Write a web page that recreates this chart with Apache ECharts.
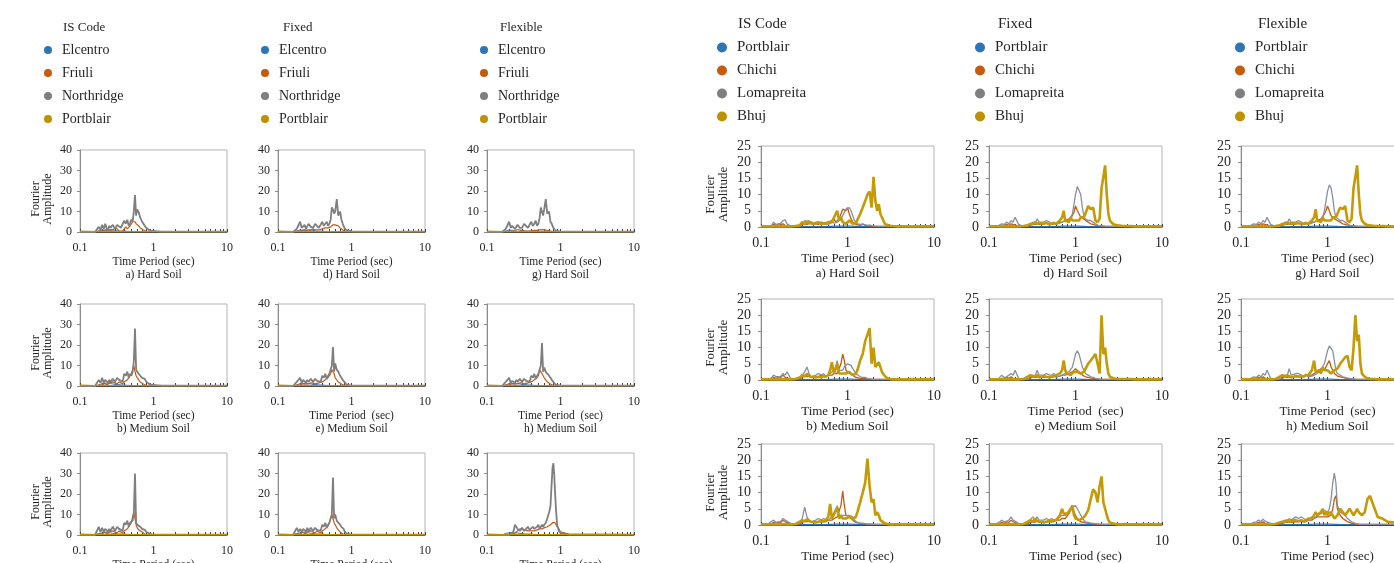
<!DOCTYPE html>
<html><head><meta charset="utf-8">
<script src="https://cdn.jsdelivr.net/npm/echarts@6/dist/echarts.min.js"></script>
<style>html,body{margin:0;padding:0;background:#fff}#c{width:1394px;height:563px}</style>
</head><body><div id="c"></div>
<script>
// ---------------- LEFT FIGURE (Elcentro / Friuli / Northridge / Portblair) ----------------
const T_L = [0.1,0.13,0.16,0.17,0.18,0.19,0.2,0.21,0.22,0.23, 0.24,0.25,0.26,0.28,0.3,0.32,0.34,0.36,0.38,0.4, 0.42,0.44,0.46,0.48,0.5,0.52,0.54,0.56,0.58,0.6, 0.63,0.66,0.7,0.73,0.76,0.78,0.8,0.82,0.84,0.87, 0.9,0.95,1,1.3,10];

const L_a_Northridge = [0,0,0,0.5,2.5,1,3.5,1.5,4,2, 1,3,2,3.5,1.5,3.5,4,2,1.5,5.5, 4,6,3,4.5,6,5,10,18,8,11, 9.5,7,5,4.5,3,3.5,2,2.5,1.5,1, 1,0.5,0.3,0.2,0.2];
const L_a_Friuli = [0,0,0,0.2,0.5,0.3,0.5,0.8,1,0.5, 1.5,0.5,0.5,1,2,1.5,0.5,1,0.5,1.5, 2.5,1.5,2,3,4,5,5.5,5,4,3.5, 3,2,1.5,1,0.5,0.5,0.3,0.2,0.2,0.2, 0.2,0.2,0.2,0.2,0.2];
const L_d_Northridge = [0,0,0,0.3,1.5,2,5,2,2.5,3.5, 1.5,2,4,2.5,2,4,3,2,1.5,5, 3,3.5,5,3,4,6,12,11,9,10, 16,8,10,6,4,3,2,1.5,1,0.8, 0.8,0.5,0.3,0.2,0.2];
const L_d_Friuli = [0,0,0,0,0.3,0.5,0.5,0.8,1,0.5, 1,1,0.5,1,1.5,1,1.5,1,0.8,1.5, 1.5,2,1.5,2,2.5,2.5,3,3.5,3.5,3.5, 3.5,3,2,1.5,1,0.5,0.3,0.2,0.2,0.2, 0.2,0.2,0.2,0.2,0.2];
const L_g_Northridge = [0,0,0,0.3,1.5,2,5,2,3,3.5, 1.5,2,3.5,2,2,4,3,2,1.5,5, 3,4,5.5,3,4,7,12,10,8,11, 16,9,10,5,4,3,2,1.5,1,0.8, 0.5,0.3,0.2,0.2,0.2];
const L_g_Friuli = [0,0,0,0,0.2,0.3,0.3,0.5,0.5,0.3, 0.5,0.5,0.3,0.5,0.8,0.5,0.5,0.5,0.3,0.5, 0.5,0.8,0.5,0.8,1,1,1.2,1.2,1,1, 0.8,0.8,0.5,0.5,0.3,0.3,0.2,0.2,0.2,0.2, 0.2,0.2,0.2,0.2,0.2];
const L_b_Northridge = [0,0,0,0.5,3,1.5,4,1.5,3,3.5, 1.5,3,2,3.5,2,4,3,2.5,2,6, 5,7,4,6,5,7,12,28,8,7, 6,5,4,4,3.5,3,2,2.5,1.5,1, 0.8,0.5,0.3,0.2,0.2];
const L_b_Friuli = [0,0,0,0,0.5,1,0.5,1,1.5,0.5, 1,1.5,1,2,1.5,1,2,1.5,1,2, 2.5,3,4,5,6,8,10,7,5,4, 3,2,1.5,1,0.8,0.5,0.3,0.2,0.2,0.2, 0.2,0.2,0.2,0.2,0.2];
const L_e_Northridge = [0,0,0,0.3,2,1.5,4,1.5,3,3, 1.5,3,2,3.5,2,3.5,2.5,2,2,5, 4,6,3.5,5,6,8,10,19,7,11, 8,7,5,4,3,2.5,2,1.5,1,0.8, 0.5,0.3,0.2,0.2,0.2];
const L_e_Friuli = [0,0,0,0,0.5,0.8,0.5,1,1.2,0.5, 1,1.5,1,1.5,1.5,1,1.5,1.5,1,2, 2,3,3.5,4,5,6,8,7,6,4, 3,2,1.5,1,0.5,0.5,0.3,0.2,0.2,0.2, 0.2,0.2,0.2,0.2,0.2];
const L_h_Northridge = [0,0,0,0.3,2,1.5,4,1.5,2.5,3, 1.5,3,2,3.5,2,3.5,2.5,2,2,5, 4,6,3.5,5,6,8,10,21,7,9, 7,6,5,4,3,2.5,2,1.5,1,0.8, 0.5,0.3,0.2,0.2,0.2];
const L_h_Friuli = [0,0,0,0,0.5,0.8,0.5,1,1.2,0.5, 1,1.5,1,1.5,1.5,1,1.5,1.5,1,2, 2,3,3.5,4,5,8,7,6,5,4, 3,2,1.5,1,0.5,0.5,0.3,0.2,0.2,0.2, 0.2,0.2,0.2,0.2,0.2];
const L_c_Northridge = [0,0,0,0.5,4,1.5,3.5,1.5,3,3.5, 1.5,3,2,4,2,4,3,2.5,2,6, 5,7,4,6,6,7,11,30,6,5, 4.5,4,3,3.5,2.5,2,1.5,1.5,1,0.8, 0.5,0.3,0.2,0.2,0.2];
const L_c_Friuli = [0,0,0,0,0.5,1,0.5,1,1.5,0.5, 1,1.5,1,2,1.5,1,2,1.5,1,2, 2.5,3,4,5,6,9,11,8,5,3.5, 2.5,2,1.5,1,0.5,0.3,0.2,0.2,0.2,0.2, 0.2,0.2,0.2,0.2,0.2];
const L_f_Northridge = [0,0,0,0.3,3.5,1.5,3,1.5,3,3, 1.5,3.5,2,3.5,2,3.5,2.5,2,2,5, 4,6,3.5,5,6,8,10,28,8,10, 7,6,5,4,3.5,3,2,1.5,1,0.8, 0.5,0.3,0.2,0.2,0.2];
const L_f_Friuli = [0,0,0,0,0.5,1,0.5,1,1.5,0.5, 1,1.5,1,2,1.5,1,2,1.5,1,2, 2,3,3.5,4.5,6,8,10,8,6,5, 3.5,2.5,1.5,1,0.5,0.3,0.2,0.2,0.2,0.2, 0.2,0.2,0.2,0.2,0.2];
const L_i_Northridge = [0,0,0,0,0,0,0,0.3,1,2, 5,5.5,3,2,3.5,2,3,4,2.5,3, 4,3,2.5,4,5,3,4,5,4,5, 6,8,11,14,26,33,35,30,22,12, 5,2,1,0.2,0.2];
const L_i_Friuli = [0,0,0,0,0,0,0,0,0.3,0.5, 1,1.5,2,3,3,2.5,2,2,1.5,2, 2,2,2.5,2.5,3,3,3,3,3,3.5, 3.5,4,4.5,5,5.5,6,6.5,6.5,6,5, 4,3,1.5,0.5,0.2];
const L_Elcentro_hard = [0,0,0,0.2,0.5,0.8,1,0.5,0.8,1, 0.8,1,1.2,1,0.8,0.5,0.5,0.3,0.3,0.5, 0.5,0.3,0.3,0.3,0.2,0.2,0.2,0.2,0.2,0.2, 0.2,0.2,0.2,0.2,0.2,0.2,0.2,0.2,0.2,0.2, 0.2,0.2,0.2,0.2,0.2];
const L_Elcentro_medium = [0,0,0,0.2,0.5,1,1.2,0.8,1,1.5, 1,1.5,1.2,1,0.8,0.8,0.5,0.5,0.3,0.5, 0.5,0.3,0.3,0.3,0.2,0.2,0.2,0.2,0.2,0.2, 0.2,0.2,0.2,0.2,0.2,0.2,0.2,0.2,0.2,0.2, 0.2,0.2,0.2,0.2,0.2];
const L_Elcentro_soft = [0,0,0,0.2,0.8,1.2,1,0.8,1.2,1.5, 1,1.2,1,0.8,0.8,0.5,0.5,0.5,0.3,0.5, 0.5,0.3,0.3,0.3,0.2,0.2,0.2,0.2,0.2,0.2, 0.2,0.2,0.2,0.2,0.2,0.2,0.2,0.2,0.2,0.2, 0.2,0.2,0.2,0.2,0.2];
const L_Portblair = [0.4,0.3,0.2,0.2,0.2,0.2,0.2,0.2,0.2,0.2, 0.2,0.2,0.2,0.2,0.2,0.2,0.2,0.2,0.2,0.2, 0.2,0.2,0.2,0.2,0.2,0.2,0.2,0.2,0.2,0.2, 0.2,0.2,0.2,0.2,0.2,0.2,0.2,0.2,0.2,0.2, 0.2,0.2,0.2,0.2,0.2];

// ---------------- RIGHT FIGURE (Portblair / Chichi / Lomapreita / Bhuj) ----------------
const T_R = [0.1,0.12,0.13,0.14,0.15,0.16,0.17,0.18,0.19,0.2, 0.22,0.25,0.28,0.3,0.32,0.34,0.36,0.38,0.4,0.43, 0.46,0.5,0.53,0.56,0.6,0.63,0.66,0.7,0.73,0.76, 0.8,0.84,0.88,0.92,0.96,1,1.05,1.1,1.15,1.2, 1.25,1.3,1.4,1.5,1.6,1.7,1.8,1.9,2,2.1, 2.2,2.3,2.4,2.5,2.7,2.9,3.1,3.4,3.8,4.3,5,10];

const R_a_Bhuj = [0.2,0.2,0.2,0.2,0.2,0.2,0.2,0.2,0.2,0.2, 0.2,0.3,0.5,1.5,0.8,1.8,1,1.5,0.8,1.2, 1.5,0.8,1.2,1,1.5,2,1.5,3,2.5,5, 2,3,1.5,2,1,1.2,2,1.5,1,1, 1.2,1.5,4,6,8,10,11,6,15.5,8, 5,7,4,3,1,0.6,0.4,0.3,0.2,0.2,0.2,0.2];
const R_a_Lomapreita = [0.2,0.2,0.2,1.5,0.8,1,1.2,2,2.2,1, 0.3,0.2,0.3,1,2,1.5,2,1,0.8,1.5, 1.2,1.5,1,1.5,0.8,1,1.5,1.2,1,1.5, 2,2.5,3.5,4.5,5.5,6,6,5,3.5,2, 1.5,1,0.8,1,0.7,0.5,0.6,0.4,0.3,0.3, 0.2,0.2,0.2,0.2,0.2,0.2,0.2,0.2,0.2,0.2,0.2,0.2];
const R_a_Chichi = [0.2,0.2,0.3,0.8,0.5,1,0.8,1,0.5,0.8, 0.3,0.2,0.3,0.8,1,0.8,1.2,1,0.5,1, 0.8,1.5,1,0.8,1.5,1,2,2.5,1.5,2, 2.5,4,5.5,6,5,6,4,2.5,1.5,1, 0.8,0.6,0.5,0.8,0.5,0.4,0.5,0.3,0.3,0.2, 0.2,0.2,0.2,0.2,0.2,0.2,0.2,0.2,0.2,0.2,0.2,0.2];

const R_b_Bhuj = [0.2,0.2,0.2,0.2,0.2,0.2,0.2,0.2,0.2,0.2, 0.2,0.3,0.8,1.5,1,2,1.2,1,1.5,0.8, 1,0.8,1.2,1,1.5,3,5.5,2,3.5,5, 2,2.5,2,2.5,2,2,2.5,2,1.5,2, 2,3,6,8,12,14,16,5,10,4, 4,5.5,4,2.5,1.2,0.5,0.3,0.2,0.2,0.2,0.2,0.2];
const R_b_Lomapreita = [0.2,0.2,0.5,1.5,1,1,1.2,2,1.5,2.5, 0.5,0.2,0.5,1.5,2.5,4,2,1,1,1.5, 2,1.5,2,1,1.5,2,2.5,3,4,6, 3,2.5,3,4,4.5,5,5,4.5,3.5,3, 2,1.5,1,0.8,0.8,0.5,0.4,0.3,0.3,0.2, 0.2,0.2,0.2,0.2,0.2,0.2,0.2,0.2,0.2,0.2,0.2,0.2];
const R_b_Chichi = [0.2,0.2,0.3,0.8,0.5,1,0.8,1.5,0.8,1, 0.3,0.2,0.3,0.8,1.5,1,1.2,0.8,0.5,0.8, 1,1.5,1.2,1,1.5,1,1.5,2,1.5,2, 2.5,5,8,6,3,2.5,2,2,1.5,1, 0.8,0.6,0.5,0.5,0.4,0.3,0.3,0.3,0.2,0.2, 0.2,0.2,0.2,0.2,0.2,0.2,0.2,0.2,0.2,0.2,0.2,0.2];

const R_c_Bhuj = [0.2,0.2,0.2,0.2,0.2,0.2,0.2,0.2,0.2,0.2, 0.2,0.3,1,1.5,1,1.8,1.2,1,1.5,0.8, 1,1.2,1,1.5,2.5,6.5,2,3.5,4.5,5.5, 2,3,2,2.5,2,2,2.5,2,1.8,2, 2.5,4,7,10,13,20.5,12,7,8,3, 4,3,1.5,1,0.5,0.3,0.2,0.2,0.2,0.2,0.2,0.2];
const R_c_Lomapreita = [0.2,0.2,1,1.5,0.8,1,1.2,2,1.5,2, 0.5,0.2,0.5,2,5.5,2.5,1.5,1,1,1.5, 2,1.5,2,1.5,1.5,2,2.5,3,4,6, 3,2.5,3,3.5,3,3.5,3,3.5,2.5,1.5, 1,0.8,0.6,0.5,0.4,0.3,0.3,0.2,0.2,0.2, 0.2,0.2,0.2,0.2,0.2,0.2,0.2,0.2,0.2,0.2,0.2,0.2];
const R_c_Chichi = [0.2,0.2,0.3,0.8,0.5,1,0.8,1.5,1,1, 0.3,0.2,0.3,0.8,1.5,1,1.5,1,0.5,1, 1,1.5,1.2,1,1.5,1,1.5,2,1.5,2.5, 3,6,10.5,6,3,3,2.5,2,1.5,1, 0.8,0.6,0.5,0.5,0.4,0.3,0.3,0.3,0.2,0.2, 0.2,0.2,0.2,0.2,0.2,0.2,0.2,0.2,0.2,0.2,0.2,0.2];

const R_d_Bhuj = [0.2,0.2,0.2,0.2,0.2,0.2,0.2,0.2,0.2,0.2, 0.2,0.3,0.5,1,0.8,1.5,1,1.2,0.8,1, 1.2,0.8,1,1.2,1,1.5,2,3,5,2, 2.5,1.5,3,2,1.5,2,2.5,2,3,2.5, 3,4,6.5,5.5,6,2,1.5,2.5,12,15.5, 19,10,4,2,1,0.6,0.5,0.4,0.3,0.3,0.2,0.2];
const R_d_Lomapreita = [0.2,0.2,0.5,1,0.8,1.5,1,2,1.5,3, 0.8,0.2,0.3,0.8,1.5,1,2.5,1.5,1,1.5, 2,1.5,1,1.5,0.8,1,1.2,1.5,2,2, 1.5,2,2.5,4,7,10,12.5,13,10,6, 3.5,2.5,2,2,1.5,1,0.5,0.4,0.3,0.3, 0.2,0.2,0.2,0.2,0.2,0.2,0.2,0.2,0.2,0.2,0.2,0.2];
const R_d_Chichi = [0.2,0.2,0.3,0.5,0.5,0.8,0.5,1,0.8,1, 0.3,0.2,0.3,0.5,1,0.8,1,0.8,0.5,1, 1.2,1,0.8,1,1,1.2,1.5,1.5,2,2, 2,2.5,3,3.5,4.5,6.5,5,4,3,2.5, 2.5,2,1.5,1,0.8,0.6,0.5,0.4,0.3,0.3, 0.2,0.2,0.2,0.2,0.2,0.2,0.2,0.2,0.2,0.2,0.2,0.2];

const R_g_Bhuj = [0.2,0.2,0.2,0.2,0.2,0.2,0.2,0.2,0.2,0.2, 0.2,0.3,0.5,1,0.8,1.5,1,1.2,0.8,1, 1.2,0.8,1,1.2,1,1.5,2,3,5.5,2, 2.5,1.5,3,2,1.5,2,2.5,2,3,2.5, 3,4,6,5.5,6.5,2,1.5,2.5,12,15.5, 19,10,4,2,1,0.6,0.5,0.4,0.3,0.3,0.2,0.2];
const R_g_Lomapreita = [0.2,0.2,0.5,1,0.8,1.5,1,2,1.5,3, 0.8,0.2,0.3,0.8,1.5,1,2.5,1.5,1,1.5, 2,1.5,1,1.5,0.8,1,1.2,1.5,2,2, 1.5,2,3,5,8,11,13,12,9,5, 3,2.5,2,2,1.5,1,0.5,0.4,0.3,0.3, 0.2,0.2,0.2,0.2,0.2,0.2,0.2,0.2,0.2,0.2,0.2,0.2];
const R_g_Chichi = [0.2,0.2,0.3,0.5,0.5,0.8,0.5,1,0.8,1, 0.3,0.2,0.3,0.5,1,0.8,1,0.8,0.5,1, 1.2,1,0.8,1,1,1.2,1.5,1.5,2,2, 2,2.5,3,4,5,6.5,5,3.5,3,2.5, 2.5,2,1.5,1,0.8,0.6,0.5,0.4,0.3,0.3, 0.2,0.2,0.2,0.2,0.2,0.2,0.2,0.2,0.2,0.2,0.2,0.2];

const R_e_Bhuj = [0.2,0.2,0.2,0.2,0.2,0.2,0.2,0.2,0.2,0.2, 0.2,0.3,1,1.5,1,1.2,1.5,0.8,1,1.2, 1,0.8,1,1.2,1.5,2,2,3,6,3, 2,1.5,1.5,2,2.5,3,2.5,2,2,2, 2.5,3,5,6,7,8,5,2,20,8, 10,5,2,1,0.6,0.4,0.3,0.3,0.3,0.3,0.2,0.2];
const R_e_Lomapreita = [0.2,0.2,0.5,1.5,0.8,1,1.5,2,1.5,3, 0.5,0.2,0.3,1,1.5,1,3,1.5,1,1.5, 2,1.5,1.5,2,1,1,1.2,1.5,1.5,2, 2,2.5,3,4,6,8,9,8,6,4, 3,2,1.5,1,0.8,0.5,0.4,0.3,0.3,0.2, 0.2,0.2,0.2,0.2,0.2,0.2,0.2,0.2,0.2,0.2,0.2,0.2];
const R_e_Chichi = [0.2,0.2,0.3,0.5,0.5,0.8,0.5,1,0.5,1, 0.3,0.2,0.3,0.5,1,0.8,1,0.8,0.5,0.8, 1,0.8,1,1,1,1.2,1.2,1.5,1.5,1.5, 1.5,2,2,2.5,3,3.5,3,2.5,2,1.5, 1.2,1,0.8,0.6,0.5,0.4,0.3,0.3,0.2,0.2, 0.2,0.2,0.2,0.2,0.2,0.2,0.2,0.2,0.2,0.2,0.2,0.2];

const R_h_Bhuj = [0.2,0.2,0.2,0.2,0.2,0.2,0.2,0.2,0.2,0.2, 0.2,0.3,1,1.5,1,1.5,1.2,0.8,1,1.2, 1,1.2,1,1.5,1.5,2,3,6,2.5,3, 3,2,4,3,2.5,3,2.5,2,2.5,3, 3,3.5,5,6,7,7.5,4,3,10,20, 12,14,5,2,1,0.5,0.3,0.3,0.2,0.2,0.2,0.2];
const R_h_Lomapreita = [0.2,0.2,0.5,1,0.8,1.5,1,2,1.5,3, 0.5,0.2,0.3,1,1.5,1,3.5,1.5,1,2, 2,1.5,1,1.5,1,1,1.2,1.5,2,2, 2.5,3,3.5,5,7,9,10.5,11,9,6, 3,2,1.5,1,0.8,0.6,0.5,0.4,0.3,0.3, 0.2,0.2,0.2,0.2,0.2,0.2,0.2,0.2,0.2,0.2,0.2,0.2];
const R_h_Chichi = [0.2,0.2,0.3,0.5,0.5,0.8,0.5,1,0.5,1, 0.3,0.2,0.3,0.5,1,0.8,1,0.8,0.5,1, 1.2,1,1,1.5,1.5,1.2,1.5,2,2,2.5, 3,3.5,4,3,3.5,5,6,4,3,2, 1.5,1.2,1,0.8,0.6,0.5,0.4,0.3,0.3,0.2, 0.2,0.2,0.2,0.2,0.2,0.2,0.2,0.2,0.2,0.2,0.2,0.2];

const R_f_Bhuj = [0.2,0.2,0.2,0.2,0.2,0.2,0.2,0.2,0.2,0.2, 0.2,0.3,1,1.5,1,2,1.2,1,1.5,0.8, 1,1.2,1,1.5,1.5,2,3,5,3.5,3, 3.5,4,5,6,3,2,1.5,1.5,2,2, 2.5,3,4.5,8,11,10,7,12,15,7, 5,3,1.5,0.8,0.5,0.3,0.2,0.2,0.2,0.2,0.2,0.2];
const R_f_Lomapreita = [0.2,0.2,0.8,1.5,1,1.2,1.5,2.5,1.5,2, 0.5,0.2,0.5,1.5,2.5,1.5,2.5,1.5,1,1.5, 2,1.5,2,1.5,1.5,2,2.5,3,3.5,3, 3,3.5,4.5,5.5,6,6,5,4,3,2, 1.5,1,0.8,0.6,0.5,0.4,0.3,0.3,0.2,0.2, 0.2,0.2,0.2,0.2,0.2,0.2,0.2,0.2,0.2,0.2,0.2,0.2];
const R_f_Chichi = [0.2,0.2,0.3,0.8,0.5,1,0.8,1.5,1,1, 0.3,0.2,0.3,0.8,1,0.8,1.5,1,0.5,1, 1,1.5,1.2,1,1.5,1,1.5,2,1.5,2, 2.5,3.5,5,6,4,3,2,1.5,1,1, 0.8,0.6,0.5,0.5,0.4,0.3,0.3,0.2,0.2,0.2, 0.2,0.2,0.2,0.2,0.2,0.2,0.2,0.2,0.2,0.2,0.2,0.2];

const R_i_Bhuj = [0.2,0.2,0.2,0.2,0.2,0.2,0.2,0.2,0.2,0.2, 0.2,0.3,0.8,1,0.8,1.5,1,1.2,1,1.5, 1.2,1.5,1,1.5,2,2.5,2,3,4,3, 3,4,5,3,4,3,4,4.5,3,2, 2,3,5,4,3,4,5,4,3,4, 5,4,3.5,3,4,8,9,6,2.5,2,1,0.2];
const R_i_Lomapreita = [0.2,0.2,0.3,0.8,1,1.5,1,1.8,1.2,1, 0.5,0.3,0.5,1,1.5,1,2,1.5,1.5,2.5, 2,2.5,2,1.5,1.5,2,2.5,2,2.5,3, 3,3.5,4,4.5,4,4,5,8,13,16, 13,6,4,3.5,3,2,1.5,1,0.8,0.5, 0.3,0.3,0.2,0.2,0.2,0.2,0.2,0.2,0.2,0.2,0.2,0.2];
const R_i_Chichi = [0.2,0.2,0.3,0.5,0.5,0.8,0.5,1,0.5,1, 0.3,0.2,0.3,0.5,1,0.8,1,0.8,0.5,1, 1,1.2,1,1,1.5,1.2,1.5,2,2,2.5, 2,2.5,3,2.5,2,2.5,3,3,5,8, 9,5,3,2,1.5,1,0.8,0.5,0.4,0.3, 0.2,0.2,0.2,0.2,0.2,0.2,0.2,0.2,0.2,0.2,0.2,0.2];

const R_Portblair = [0.1,0.1,0.1,0.1,0.1,0.1,0.1,0.1,0.1,0.1, 0.1,0.1,0.1,0.1,0.1,0.1,0.1,0.1,0.1,0.1, 0.1,0.1,0.1,0.1,0.2,0.2,0.2,0.3,0.3,0.3, 0.3,0.3,0.3,0.3,0.3,0.3,0.3,0.3,0.2,0.2, 0.2,0.2,0.1,0.1,0.1,0.1,0.1,0.1,0.1,0.1, 0.1,0.1,0.1,0.1,0.1,0.1,0.1,0.1,0.1,0.1,0.1,0.1];

// ---------------- labels ----------------
const LEFT_NAMES = ['Elcentro','Friuli','Northridge','Portblair'];
const RIGHT_NAMES = ['Portblair','Chichi','Lomapreita','Bhuj'];
const GROUP_TITLES = ['IS Code','Fixed','Flexible'];
const LEFT_CAPTIONS = ['a) Hard Soil','d) Hard Soil','g) Hard Soil','b) Medium Soil','e) Medium Soil','h) Medium Soil','c) Soft Soil','f) Soft Soil','i) Soft Soil'];
const RIGHT_CAPTIONS = ['a) Hard Soil','d) Hard Soil','g) Hard Soil','b) Medium Soil','e) Medium Soil','h) Medium Soil','c) Soft Soil','f) Soft Soil','i) Soft Soil'];
const LEFT_XNAMES = ['Time Period (sec)','Time Period (sec)','Time Period (sec)','Time Period (sec)','Time Period  (sec)','Time Period  (sec)','Time Period (sec)','Time Period (sec)','Time Period (sec)'];
const RIGHT_XNAMES = ['Time Period (sec)','Time Period (sec)','Time Period (sec)','Time Period (sec)','Time Period  (sec)','Time Period  (sec)','Time Period (sec)','Time Period (sec)','Time Period (sec)'];
const Y_NAME = 'Fourier\nAmplitude';

// panels in row-major order (rows: hard/medium/soft; cols: IS Code/Fixed/Flexible)
const LEFT_PANELS = [
  [L_Elcentro_hard, L_a_Friuli, L_a_Northridge, L_Portblair],
  [L_Elcentro_hard, L_d_Friuli, L_d_Northridge, L_Portblair],
  [L_Elcentro_hard, L_g_Friuli, L_g_Northridge, L_Portblair],
  [L_Elcentro_medium, L_b_Friuli, L_b_Northridge, L_Portblair],
  [L_Elcentro_medium, L_e_Friuli, L_e_Northridge, L_Portblair],
  [L_Elcentro_medium, L_h_Friuli, L_h_Northridge, L_Portblair],
  [L_Elcentro_soft, L_c_Friuli, L_c_Northridge, L_Portblair],
  [L_Elcentro_soft, L_f_Friuli, L_f_Northridge, L_Portblair],
  [L_Elcentro_soft, L_i_Friuli, L_i_Northridge, L_Portblair]
];
const RIGHT_PANELS = [
  [R_Portblair, R_a_Chichi, R_a_Lomapreita, R_a_Bhuj],
  [R_Portblair, R_d_Chichi, R_d_Lomapreita, R_d_Bhuj],
  [R_Portblair, R_g_Chichi, R_g_Lomapreita, R_g_Bhuj],
  [R_Portblair, R_b_Chichi, R_b_Lomapreita, R_b_Bhuj],
  [R_Portblair, R_e_Chichi, R_e_Lomapreita, R_e_Bhuj],
  [R_Portblair, R_h_Chichi, R_h_Lomapreita, R_h_Bhuj],
  [R_Portblair, R_c_Chichi, R_c_Lomapreita, R_c_Bhuj],
  [R_Portblair, R_f_Chichi, R_f_Lomapreita, R_f_Bhuj],
  [R_Portblair, R_i_Chichi, R_i_Lomapreita, R_i_Bhuj]
];

// sanity check
LEFT_PANELS.forEach((p,i)=>p.forEach((a,k)=>{ if(a.length!==T_L.length) throw new Error('Left panel '+i+' series '+k+' length '+a.length); }));
RIGHT_PANELS.forEach((p,i)=>p.forEach((a,k)=>{ if(a.length!==T_R.length) throw new Error('Right panel '+i+' series '+k+' length '+a.length); }));

// ---------------- styles & layout ----------------
const FONT = 'Liberation Serif';
const TXT = '#262626';
const BLUE = '#2e75b6', ORANGE = '#c55a11', GRAY = '#7f7f7f', GOLD = '#bf9000';
const LEFT_COLORS = [BLUE, ORANGE, GRAY, GOLD];
const RIGHT_COLORS = [BLUE, ORANGE, '#8890a0', '#c49a06'];
const LEFT_WIDTHS = [1, 1.2, 1.8, 1.4];
const RIGHT_WIDTHS = [1.2, 1.3, 1.3, 2.6];

const LAY = {
  L: {x:[80,278,487], y:[150,304,453], w:147, h:82, nameGap:[23,17,17], tick:12, axisName:11.5, yMax:40, yInt:10, yNameGap:26, yNameFont:12, labelMargin:10, yLabelMargin:8},
  R: {x:[761,989,1241], y:[146,299,444], w:173, h:81, nameGap:[20,17,19], tick:14, axisName:13, yMax:25, yInt:5, yNameGap:31, yNameFont:13, labelMargin:9, yLabelMargin:10}
};

const grids = [], xAxes = [], yAxes = [], series = [];
let gi = 0;
function addPanel(side, idx, T, arrs, names, colors, widths, caption, xname) {
  const c = LAY[side];
  const row = Math.floor(idx/3), col = idx%3;
  grids.push({left:c.x[col], top:c.y[row], width:c.w, height:c.h, show:true, borderColor:'#b4b4b4', borderWidth:1, backgroundColor:'transparent', containLabel:false, outerBoundsMode:'none'});
  xAxes.push({
    type:'log', logBase:10, min:0.1, max:10, gridIndex:gi,
    axisLine:{show:true, onZero:false, lineStyle:{color:'#404040', width:1}},
    axisTick:{show:true, inside:true, length:3, lineStyle:{color:'#404040'}},
    minorTick:{show:true, splitNumber:9, length:3, lineStyle:{color:'#404040'}},
    splitLine:{show:false}, minorSplitLine:{show:false},
    axisLabel:{fontFamily:FONT, fontSize:c.tick, color:TXT, margin:c.labelMargin, formatter:v=>String(Math.round(v*1000)/1000)},
    name: xname + '\n' + caption, nameLocation:'middle', nameGap:c.nameGap[row],
    nameTextStyle:{fontFamily:FONT, fontSize:c.axisName, color:TXT, lineHeight:c.axisName+2, align:'center'}
  });
  yAxes.push({
    type:'value', min:0, max:c.yMax, interval:c.yInt, gridIndex:gi,
    axisLine:{show:true, lineStyle:{color:'#8c8c8c'}},
    axisTick:{show:true, length:3, lineStyle:{color:'#8c8c8c'}},
    splitLine:{show:false},
    axisLabel:{fontFamily:FONT, fontSize:c.tick, color:TXT, margin:c.yLabelMargin},
    name: col===0 ? Y_NAME : '', nameLocation:'middle', nameRotate:90, nameGap:c.yNameGap,
    nameTextStyle:{fontFamily:FONT, fontSize:c.yNameFont, color:TXT, lineHeight:c.yNameFont, padding:[0,16,0,0]}
  });
  arrs.forEach((arr,k)=>{
    series.push({
      type:'line', name:names[k], xAxisIndex:gi, yAxisIndex:gi,
      data:T.map((t,j)=>[t, arr[j]]),
      showSymbol:false, symbol:'none', smooth:false, clip:true,
      lineStyle:{width:widths[k], color:colors[k]}, itemStyle:{color:colors[k]},
      emphasis:{disabled:true}, animation:false
    });
  });
  gi++;
}
LEFT_PANELS.forEach((p,i)=>addPanel('L', i, T_L, p, LEFT_NAMES, LEFT_COLORS, LEFT_WIDTHS, LEFT_CAPTIONS[i], LEFT_XNAMES[i]));
RIGHT_PANELS.forEach((p,i)=>addPanel('R', i, T_R, p, RIGHT_NAMES, RIGHT_COLORS, RIGHT_WIDTHS, RIGHT_CAPTIONS[i], RIGHT_XNAMES[i]));

// legends & their titles
const LEG_L = {left:[44,261,480], top:43, titleLeft:[63,283,500], titleTop:21, font:14, titleFont:13, iw:18, ih:8, gap:9};
const LEG_R = {left:[717,975,1235], top:40, titleLeft:[738,998,1258], titleTop:17, font:15, titleFont:15, iw:20, ih:10, gap:8};
const legends = [], titles = [];
[ [LEG_L, LEFT_NAMES, [BLUE,ORANGE,GRAY,GOLD]], [LEG_R, RIGHT_NAMES, [BLUE,ORANGE,GRAY,GOLD]] ].forEach(([L, names, cols])=>{
  for (let c=0;c<3;c++){
    legends.push({
      orient:'vertical', left:L.left[c], top:L.top, icon:'circle', itemWidth:L.iw, itemHeight:L.ih, itemGap:L.gap, padding:0,
      textStyle:{fontFamily:FONT, fontSize:L.font, color:TXT},
      data:names.map((n,k)=>({name:n, itemStyle:{color:cols[k]}}))
    });
    titles.push({text:GROUP_TITLES[c], left:L.titleLeft[c], top:L.titleTop, padding:0,
      textStyle:{fontFamily:FONT, fontSize:L.titleFont, fontWeight:'normal', color:TXT}});
  }
});

const chart = echarts.init(document.getElementById('c'), null, {renderer:'canvas'});
chart.setOption({
  backgroundColor:'#ffffff',
  animation:false,
  title:titles,
  legend:legends,
  grid:grids,
  xAxis:xAxes,
  yAxis:yAxes,
  series:series
});
</script>
</body></html>
